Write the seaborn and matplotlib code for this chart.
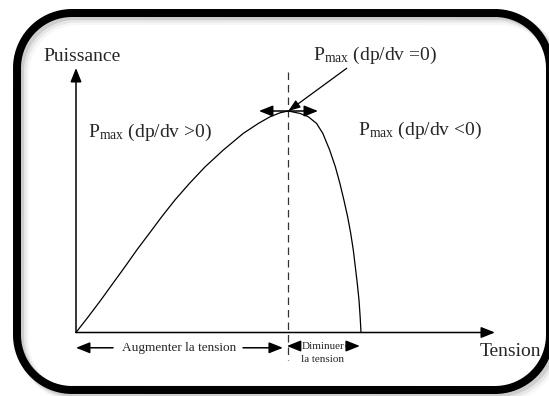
import matplotlib
matplotlib.use("Agg")
import matplotlib.pyplot as plt
from matplotlib.patches import PathPatch
from matplotlib.path import Path
import numpy as np
import seaborn as sns
import pandas as pd

# ---- data (arbitrary units, Voc = 100, Pmax = 100) ----
tension = [0, 4.3, 8.7, 12.9, 17.2, 21.3, 25.7, 30.1, 34.7, 39.8, 45.3, 51.7,
           58.7, 64.0, 68.1, 71.6, 74.5, 78.6, 81.5, 84.4, 86.6, 89.0, 91.0,
           92.6, 94.0, 95.3, 96.4, 97.3, 98.0, 98.7, 99.3, 99.7, 100]
puissance = [0, 7.1, 14.6, 22.1, 29.7, 37.2, 44.7, 52.3, 59.8, 67.3, 74.8, 82.4,
             89.9, 94.4, 97.4, 99.2, 100, 98.9, 97.4, 94.4, 89.9, 82.4, 74.8,
             67.3, 59.8, 52.3, 44.7, 37.2, 29.7, 22.1, 14.6, 7.1, 0]
v_mpp = 74.5
p_mpp = 100

sns.set_theme(style="white")
plt.rcParams["font.family"] = ["Liberation Serif", "DejaVu Serif"]
plt.rcParams["mathtext.fontset"] = "custom"
plt.rcParams["mathtext.rm"] = "Liberation Serif"
plt.rcParams["mathtext.it"] = "Liberation Serif:italic"

W, H = 549, 396
fig = plt.figure(figsize=(W / 100, H / 100), dpi=100)
fig.patch.set_facecolor("white")

# main axes: origin at pixel (76, 332.5); 2.85 px per V-unit, 2.215 px per P-unit
ax = fig.add_axes([0, 0, 1, 1])
ox, oy, sx, sy = 76, 332.5, 2.85, 2.215
ax.set_xlim(-ox / sx, (W - ox) / sx)
ax.set_ylim(-(H - oy) / sy, oy / sy)
ax.axis("off")

df = pd.DataFrame({"Tension": tension, "Puissance": puissance})
sns.lineplot(data=df, x="Tension", y="Puissance", ax=ax, color="black",
             lw=0.9, estimator=None, sort=False)

arrow = dict(arrowstyle="-|>,head_length=0.7,head_width=0.28", color="black",
             lw=1.1, shrinkA=0, shrinkB=0, mutation_scale=12)
arrow2 = dict(arrowstyle="<|-|>,head_length=0.7,head_width=0.28", color="black",
              lw=1.1, shrinkA=0, shrinkB=0, mutation_scale=12)

# axes arrows
ax.annotate("", xy=(147.0, 0), xytext=(0, 0), arrowprops=arrow)
ax.annotate("", xy=(0, 119.4), xytext=(0, 0), arrowprops=arrow)

# dashed MPP line
ax.plot([v_mpp, v_mpp], [117.6, -12.4], color="#333333", lw=0.9,
        dashes=(6, 4))

# double arrow at peak and pointer
ax.annotate("", xy=(84.9, p_mpp), xytext=(64.2, p_mpp), arrowprops=arrow2)
ax.annotate("", xy=(v_mpp, p_mpp), xytext=(95.0, 119.3),
            arrowprops=dict(arrowstyle="-|>,head_length=0.6,head_width=0.22",
                            color="black", lw=0.9, shrinkA=0, shrinkB=0,
                            mutation_scale=12))

# lower arrows
ya = -6.9
ax.annotate("", xy=(0, ya), xytext=(13.0, ya), arrowprops=arrow)
ax.annotate("", xy=(72.6, ya), xytext=(58.6, ya), arrowprops=arrow)
yd = -6.1
ax.annotate("", xy=(74.0, yd), xytext=(78.6, yd), arrowprops=arrow)
ax.annotate("", xy=(99.6, yd), xytext=(94.7, yd), arrowprops=arrow)

# texts
big = 14
ax.text(-11.6, 124.8, "Puissance", fontsize=big, ha="left", va="center")
ax.text(141.6, -8.7, "Tension", fontsize=big, ha="left", va="center")
ax.text(4.2, 88.3, r"P$_{\mathrm{max}}$ (dp/dv >0)", fontsize=big,
        ha="left", va="baseline")
ax.text(83.2, 123.0, r"P$_{\mathrm{max}}$ (dp/dv =0)", fontsize=big,
        ha="left", va="baseline")
ax.text(98.9, 89.2, r"P$_{\mathrm{max}}$ (dp/dv <0)", fontsize=big,
        ha="left", va="baseline")
ax.text(36.1, -6.9, "Augmenter la tension", fontsize=9.5, ha="center", va="center")
ax.text(86.7, -6.1, "Diminuer", fontsize=8.0, ha="center", va="center")
ax.text(86.5, -12.1, "la tension", fontsize=8.0, ha="center", va="center")

# rounded frame with soft shadow (pixel overlay)
ov = fig.add_axes([0, 0, 1, 1], zorder=5)
ov.set_xlim(0, W)
ov.set_ylim(H, 0)
ov.axis("off")
ov.patch.set_alpha(0)


def rounded_frame(x0, y0, x1, y1, r):
    verts = []
    corners = [((x1 - r, y1 - r), 0, 90), ((x0 + r, y1 - r), 90, 180),
               ((x0 + r, y0 + r), 180, 270), ((x1 - r, y0 + r), 270, 360)]
    for (cx, cy), a0, a1 in corners:
        for t in np.radians(np.linspace(a0, a1, 40)):
            verts.append((cx + r * np.cos(t), cy + r * np.sin(t)))
    verts.append(verts[0])
    return Path(verts)


fx0, fy0, fx1, fy1, fr = 17, 13, 550, 390, 55
for off, a, lw in [(6, 0.06, 12), (4.5, 0.12, 10), (3, 0.22, 8)]:
    ov.add_patch(PathPatch(rounded_frame(fx0 + off, fy0 + off, fx1 + off, fy1 + off, fr),
                           fc="none", ec="#777777", lw=lw * 0.72, alpha=a))
ov.add_patch(PathPatch(rounded_frame(fx0, fy0, fx1, fy1, fr),
                       fc="none", ec="black", lw=8 * 0.72))

fig.savefig("out.png", dpi=100, facecolor="white")
